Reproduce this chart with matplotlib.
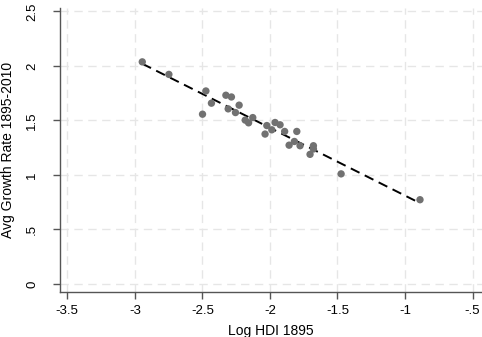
import numpy as np
import matplotlib
matplotlib.use("Agg")
import matplotlib.pyplot as plt

# data
log_hdi = [-2.945, -2.748, -2.474, -2.499, -2.433, -2.326, -2.285, -2.228, -2.309, -2.255,
           -2.183, -2.158, -2.127, -2.023, -2.036, -1.986, -1.962, -1.925, -1.891, -1.858,
           -1.801, -1.819, -1.777, -1.678, -1.678, -1.703, -1.473, -0.889]
growth = [2.037, 1.922, 1.770, 1.557, 1.658, 1.731, 1.715, 1.640, 1.606, 1.572,
          1.503, 1.478, 1.526, 1.453, 1.375, 1.414, 1.481, 1.460, 1.399, 1.273,
          1.399, 1.307, 1.268, 1.268, 1.238, 1.189, 1.010, 0.773]

x_ticks = [-3.5, -3, -2.5, -2, -1.5, -1, -0.5]
x_labels = ["-3.5", "-3", "-2.5", "-2", "-1.5", "-1", "-.5"]
y_ticks = [0, 0.5, 1, 1.5, 2, 2.5]
y_labels = ["0", ".5", "1", "1.5", "2", "2.5"]

plt.rcParams['font.family'] = ['Liberation Sans', 'DejaVu Sans']

fig = plt.figure(figsize=(4.82, 3.37), dpi=100)
ax = fig.add_axes([0.1245, 0.1326, 0.8755, 0.8434])

x = np.array(log_hdi)
y = np.array(growth)

# fitted line
b, a = np.polyfit(x, y, 1)
xs = np.array([x.min(), x.max()])
ax.plot(xs, a + b * xs, color='black', lw=1.4, dashes=(5, 3), zorder=3)

ax.scatter(x, y, s=28, color='#717171', edgecolors='none', zorder=4)

ax.set_xlim(-3.554, -0.43)
ax.set_ylim(-0.076, 2.53)
ax.set_xticks(x_ticks)
ax.set_xticklabels(x_labels)
ax.set_yticks(y_ticks)
ax.set_yticklabels(y_labels, rotation=90, va='center', ha='center')

ax.grid(True, color='#e6e6e6', lw=1.0, ls=(0, (6, 4)))
ax.set_axisbelow(True)

for s in ['top', 'right']:
    ax.spines[s].set_visible(False)
for s in ['left', 'bottom']:
    ax.spines[s].set_color('#555555')
    ax.spines[s].set_linewidth(1.0)
ax.tick_params(colors='#555555', length=5, width=1.0, labelsize=9.5, labelcolor='black')
ax.tick_params(axis='x', pad=4)
ax.tick_params(axis='y', pad=15)

ax.set_xlabel('Log HDI 1895', fontsize=10, labelpad=5)
ax.set_ylabel('Avg Growth Rate 1895-2010', fontsize=10, va='center')
ax.yaxis.set_label_coords(-0.123, 0.5)

fig.savefig('out.png', dpi=100)
